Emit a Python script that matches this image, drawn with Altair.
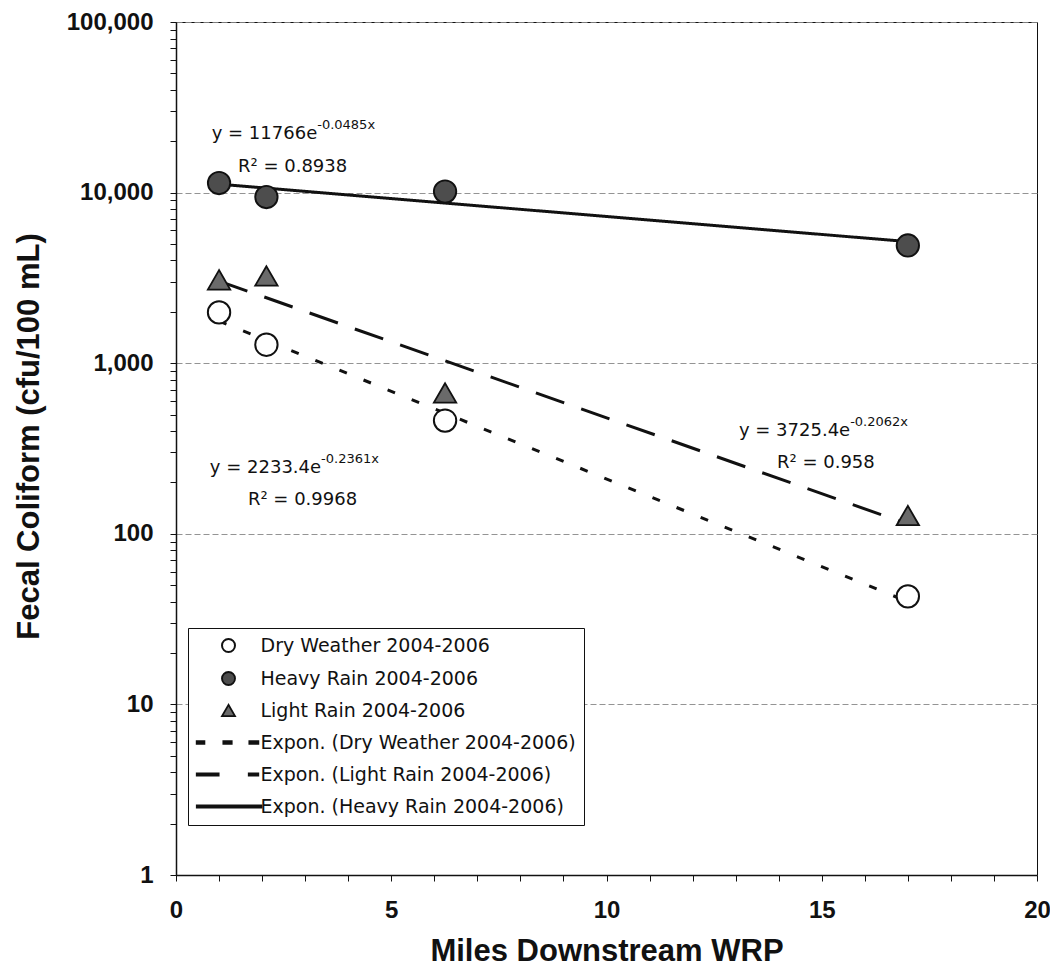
import altair as alt
import pandas as pd

# ---- data ----
miles = [1.0, 2.1, 6.25, 17.0]
dry = [1985, 1283, 461, 43]
heavy = [11380, 9420, 10140, 4900]
light = [3080, 3250, 670, 128]

trend_x = [1.0, 17.0]
trend_dry = [1764, 40]
trend_light = [3030, 114]
trend_heavy = [11200, 5160]

point_labels = ["Dry Weather 2004-2006", "Heavy Rain 2004-2006", "Light Rain 2004-2006"]
trend_labels = ["Expon. (Dry Weather 2004-2006)", "Expon. (Light Rain 2004-2006)",
                "Expon. (Heavy Rain 2004-2006)"]
legend_labels = point_labels + trend_labels

eq_main = ["y = 11766e", "y = 3725.4e", "y = 2233.4e"]
eq_exp = ["-0.0485x", "-0.2062x", "-0.2361x"]
eq_r2 = ["R\u00b2 = 0.8938", "R\u00b2 = 0.958", "R\u00b2 = 0.9968"]
eq_x = [3.28, 15.66, 3.37]
eq_y = [20700, 374, 228]
r2_x = [1.44, 13.96, 1.67]
r2_y = [13270, 243, 148]

y_ticks = [m * 10 ** e for e in range(5) for m in range(1, 10)] + [100000]
x_ticks = list(range(21))

# ---- tables ----
pts = pd.DataFrame({
    "miles": miles * 3,
    "cfu": dry + heavy + light,
    "series": [point_labels[0]] * 4 + [point_labels[1]] * 4 + [point_labels[2]] * 4,
})
trend = pd.DataFrame({
    "miles": trend_x * 3,
    "cfu": trend_dry + trend_light + trend_heavy,
    "series": [trend_labels[0]] * 2 + [trend_labels[1]] * 2 + [trend_labels[2]] * 2,
})
eq = pd.DataFrame({"x": eq_x, "y": eq_y, "main": eq_main, "exp": eq_exp})
r2 = pd.DataFrame({"x": r2_x, "y": r2_y, "t": eq_r2})

# legend symbols (line samples drawn as custom symbol paths of thin bars)
path_dry = "M-4.9,-0.22H-3.7V0.22H-4.9ZM-0.8,-0.22H0.5V0.22H-0.8ZM3.2,-0.22H4.6V0.22H3.2Z"
path_light = "M-4.9,-0.2H-1.5V0.2H-4.9ZM3.1,-0.2H4.6V0.2H3.1Z"
path_heavy = "M-4.9,-0.18H5.1V0.18H-4.9Z"
shape_range = ["circle", "circle", "triangle-up", path_dry, path_light, path_heavy]
fill_range = ["white", "#4d4d4d", "#6a6a6a", "#111", "#111", "#111"]
stroke_range = ["#111"] * 6
sw_range = [2, 1.5, 1.5, 0.6, 0.6, 0.6]

decades = "[1,10,100,1000,10000,100000]"

x_enc = alt.X("miles:Q", title="Miles Downstream WRP",
              scale=alt.Scale(domain=[0, 20], nice=False, zero=False),
              axis=alt.Axis(values=x_ticks,
                            labelExpr="datum.value % 5 == 0 ? datum.label : ''",
                            labelFlush=False, labelOverlap=False, grid=False,
                            tickSize=6, labelPadding=17,
                            titleY=85, titleBaseline="alphabetic"))
y_enc = alt.Y("cfu:Q", title="Fecal Coliform (cfu/100 mL)",
              scale=alt.Scale(type="log", domain=[1, 100000], nice=False),
              axis=alt.Axis(values=y_ticks,
                            labelExpr=f"indexof({decades}, datum.value) >= 0 ? format(datum.value, ',') : ''",
                            labelOverlap=False, labelFlush=False,
                            grid=True,
                            gridOpacity={"condition": {"test": f"indexof({decades}, datum.value) >= 0",
                                                       "value": 0.9}, "value": 0},
                            tickSize=6, labelPadding=17,
                            titleX=-138, titleY=414, titleBaseline="alphabetic"))

leg = alt.Legend(orient="none", legendX=12, legendY=606, title=None,
                 fillColor="white", strokeColor="#111", padding=8,
                 symbolSize=169, symbolOffset=23, labelOffset=22.5, labelLimit=500,
                 labelFont="DejaVu Sans", labelFontSize=19, labelColor="#111",
                 rowPadding=12, symbolOpacity=1)

lines = alt.Chart(trend).mark_line(color="#111", strokeWidth=3).encode(
    x=x_enc, y=y_enc,
    strokeDash=alt.StrokeDash("series:N", legend=None,
                              scale=alt.Scale(domain=trend_labels,
                                              range=[[8, 18], [30, 18], [1, 0]])),
)

points = alt.Chart(pts).mark_point(filled=True, opacity=1).encode(
    x=x_enc, y=y_enc,
    shape=alt.Shape("series:N", scale=alt.Scale(domain=legend_labels, range=shape_range), legend=leg),
    fill=alt.Fill("series:N", scale=alt.Scale(domain=legend_labels, range=fill_range), legend=leg),
    stroke=alt.Stroke("series:N", scale=alt.Scale(domain=legend_labels, range=stroke_range), legend=leg),
    strokeWidth=alt.StrokeWidth("series:N", scale=alt.Scale(domain=legend_labels, range=sw_range), legend=leg),
    size=alt.value(500),
)

txt_main = alt.Chart(eq).mark_text(align="right", baseline="alphabetic", font="DejaVu Sans",
                                   fontSize=18, color="#111").encode(
    x=alt.X("x:Q"), y=alt.Y("y:Q"), text="main:N")
txt_exp = alt.Chart(eq).mark_text(align="left", baseline="alphabetic", font="DejaVu Sans",
                                  fontSize=13, dy=-10, color="#111").encode(
    x=alt.X("x:Q"), y=alt.Y("y:Q"), text="exp:N")
txt_r2 = alt.Chart(r2).mark_text(align="left", baseline="alphabetic", font="DejaVu Sans",
                                 fontSize=18, color="#111").encode(
    x=alt.X("x:Q"), y=alt.Y("y:Q"), text="t:N")

chart = alt.layer(lines, points, txt_main, txt_exp, txt_r2).properties(
    width=861, height=853,
    autosize=alt.AutoSizeParams(type="none"),
    padding={"left": 168, "top": 14, "right": 13, "bottom": 92},
    background="white",
).configure_view(stroke="#111", strokeWidth=1).configure_axis(
    labelFont="Liberation Sans", labelFontSize=24, labelFontWeight="bold", labelColor="#111",
    titleFont="Liberation Sans", titleFontSize=31, titleFontWeight="bold", titleColor="#111",
    domainColor="#111", domainWidth=1.5, tickColor="#111", tickWidth=1,
    gridColor="#888", gridDash=[6, 3], gridWidth=1,
)

chart.save("out.html", embed_options={"renderer": "svg", "actions": False})
